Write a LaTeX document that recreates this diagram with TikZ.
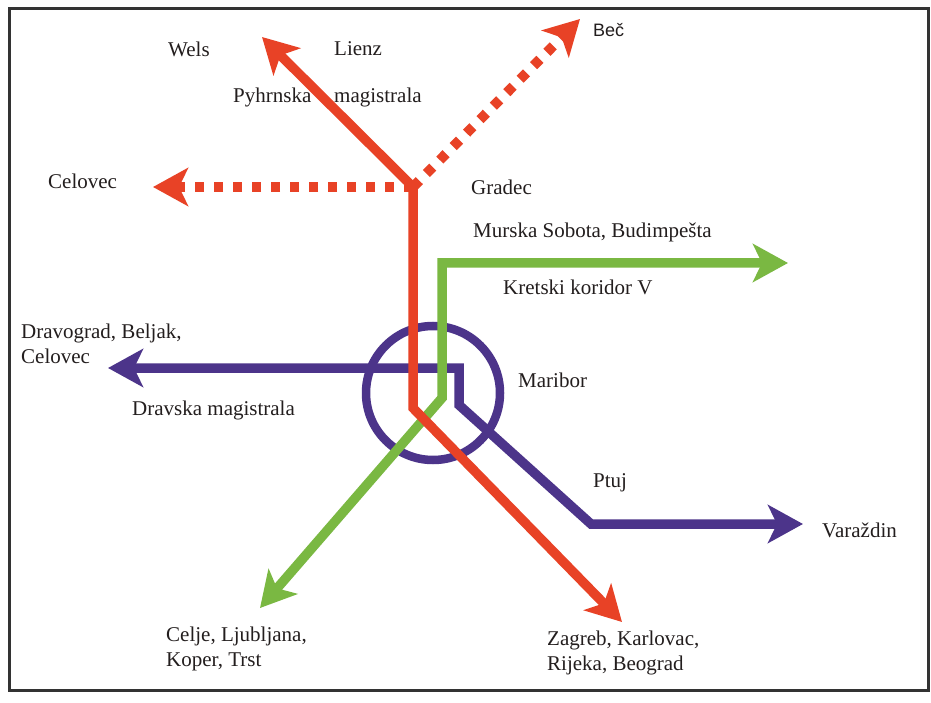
\documentclass[tikz,border=0pt]{standalone}
\usepackage{fontspec}
\setmainfont{Liberation Serif}
\newfontfamily\arialfont{Liberation Sans}
\usetikzlibrary{arrows.meta}
\definecolor{rline}{RGB}{232,66,38}
\definecolor{gline}{RGB}{122,184,66}
\definecolor{pline}{RGB}{76,52,138}
\definecolor{txt}{RGB}{35,30,30}
\begin{document}
\begin{tikzpicture}[x=1pt,y=-1pt,
  lbl/.style={anchor=west,inner sep=0pt,font=\fontsize{21}{25}\selectfont,text=txt,align=left},
  tip/.style={-{Stealth[length=35pt,width=38pt,inset=9pt]}},
  twotip/.style={{Stealth[length=35pt,width=38pt,inset=9pt]}-{Stealth[length=35pt,width=38pt,inset=9pt]}},
  rail/.style={line width=9.5pt,line join=miter},
  dots/.style={line width=10pt,dash pattern=on 9pt off 10pt}]
\useasboundingbox (0,0) rectangle (931,703);
\fill[white] (0,0) rectangle (931,703);
\draw[line width=3pt,black!80] (9,9) rectangle (928,690);

% coordinates
\coordinate (jn) at (413,187);
\coordinate (wtip) at (262,37);
\coordinate (rbend) at (413,408);
\coordinate (rtip) at (622,622);
\coordinate (ctip) at (153,187);
\coordinate (btip) at (580,19);
\coordinate (gtip) at (788,263);
\coordinate (gcorner) at (442,263);
\coordinate (gbend) at (442,398);
\coordinate (gtip2) at (260,608);
\coordinate (ptipl) at (108,368);
\coordinate (pcorner) at (459,368);
\coordinate (pbend) at (459,405);
\coordinate (pbend2) at (591,524);
\coordinate (ptipr) at (803,524);

% Maribor circle
\draw[pline,line width=8.5pt] (433,393) circle[radius=67];

% purple line
\draw[pline,rail,twotip] (ptipl) -- (pcorner) -- (pbend) -- (pbend2) -- (ptipr);
% green line
\draw[gline,rail,twotip] (gtip) -- (gcorner) -- (gbend) -- (gtip2);
% red lines
\draw[rline,dots,tip] (jn) -- (ctip);
\draw[rline,dots,tip] (jn) -- (btip);
\draw[rline,rail,twotip] (wtip) -- (jn) -- (rbend) -- (rtip);

% labels
\node[lbl] (wels) at (168,49) {Wels};
\node[lbl] (lienz) at (334,49) {Lienz};
\node[lbl] (pyhrn) at (233,97) {Pyhrnska};
\node[lbl] (mag1) at (334,97) {magistrala};
\node[lbl] (celovec) at (48,181) {Celovec};
\node[lbl,font=\arialfont\fontsize{18}{20}\selectfont] (bec) at (593,30) {Beč};
\node[lbl] (gradec) at (471,187) {Gradec};
\node[lbl] (murska) at (473,232) {Murska Sobota, Budimpešta};
\node[lbl] (kretski) at (503,287) {Kretski koridor V};
\node[lbl] (dravograd) at (21,344) {Dravograd, Beljak,\\Celovec};
\node[lbl] (dravska) at (132,410) {Dravska magistrala};
\node[lbl] (maribor) at (518,380) {Maribor};
\node[lbl] (ptuj) at (593,483) {Ptuj};
\node[lbl] (varazdin) at (822,530) {Varaždin};
\node[lbl] (zagreb) at (547,653) {Zagreb, Karlovac,\\Rijeka, Beograd};
\node[lbl] (celje) at (166,649) {Celje, Ljubljana,\\Koper, Trst};
\end{tikzpicture}
\end{document}
